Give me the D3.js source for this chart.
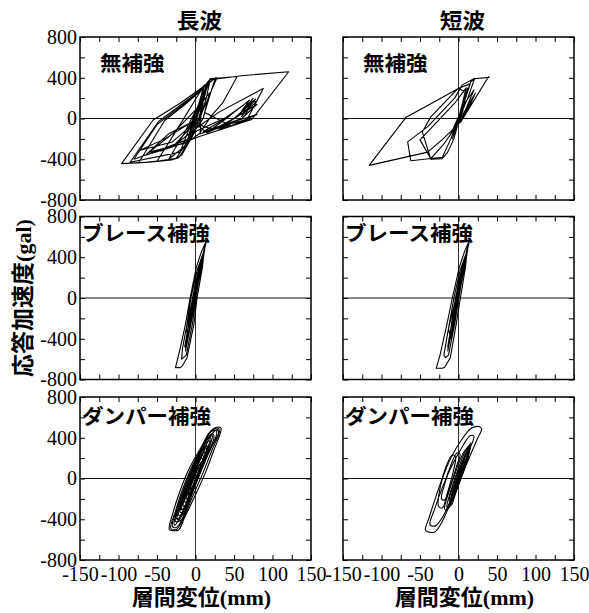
<!DOCTYPE html>
<html>
<head>
<meta charset="utf-8">
<script src="https://cdn.jsdelivr.net/npm/d3@7"></script>
<style>
  body { margin: 0; background: #fff; }
  .serif { font-family: "Liberation Serif", "Times New Roman", Times, "DejaVu Serif", serif; }
  .cjk { font-family: "Noto Sans CJK JP", "Noto Sans", sans-serif; font-weight: bold; }
</style>
</head>
<body>
<div id="chart"></div>
<script>
// Column / row titles and ticks
const columnTitles = ['長波', '短波'];
const rowTitles = ['無補強', 'ブレース補強', 'ダンパー補強'];
const xTickMinor = [-150, -125, -100, -75, -50, -25, 0, 25, 50, 75, 100, 125, 150];
const xTickLabels = [-150, -100, -50, 0, 50, 100, 150];
const yTickMinor = [-800, -600, -400, -200, 0, 200, 400, 600, 800];
const yTickLabels = [-800, -400, 0, 400, 800];

// 層間変位 (mm), 応答加速度 (gal)
const longNone = [[
  [0,0],[6,130],[-5,-100],[9,190],[-7,-150],[12,260],[-9,-190],[14,310],[-6,-130],
  [17,360],[19,390],[28,400],[22,300],[12,120],[2,-40],[-8,-180],
  [-14,-290],[-20,-370],[-28,-400],[-74,-437],[-40,-20],[-10,160],[8,280],[16,350],
  [20,390],[54,412],[46,300],[35,150],[20,20],[5,-150],[-10,-230],
  [-17,-330],[-22,-385],[-31,-408],[-60,-428],[-96,-443],[-55,-15],[-20,150],[1,262],[15,340],
  [18,360],[5,100],[-10,-100],[-30,-230],[-72,-312],[-40,-200],[-10,-60],[6,-2],[14,200],
  [19,380],[60,420],[121,459],[73,-10],[40,-90],[6,-174],
  [-20,-250],[-45,-320],[-25,-250],[0,-100],[30,60],[88,295],[67,-10],[40,-60],[20,-110],
  [45,30],[70,180],[55,20],[62,80],[75,200],[58,40],[65,120],[78,190],[60,20],[68,150],
  [80,170],[62,50],[72,140],[64,30],[74,160],[50,0],[30,-80],[10,-130],
  [30,-40],[62,130],[40,10],[20,-60],[2,-120],[-5,-160],[10,0],[18,250],[8,150],[-3,-50],
  [10,180],[-5,-90],[4,120],[-2,-40],[0,0],[-10,-220],[-25,-390],[-50,-420],[-20,-60],
  [5,250],[17,370],[8,200],[-5,-60],[-12,-260],[-35,-400],[-15,-150],[3,120],[14,320],
  [-2,20],[-8,-230],[-60,-330],[-30,-150],[2,100],[16,340],[26,398],[20,260],[12,60],
  [40,-50],[80,140],[60,0],[45,-40],[15,-140],[0,-50],[12,280],[-6,-200],[8,220],
  [-20,-330],[-85,-430],[-48,-30],[0,240],[10,300],[-8,-200],[-40,-290],[-80,-400],
  [-50,-60],[-5,200],[12,330],[-3,-60],[-30,-280],[-65,-360],[-35,-150],[0,-20],[15,310],
  [0,-120],[-18,-360],[-5,-100],[8,200],[6,-150],[45,-60],[30,-110],[70,-10],[50,-60],
  [80,40],[20,-100],[4,-60],[10,150],[0,0]
]];

const shortNone = [[
  [0,0],[4,120],[-3,-90],[8,220],[-5,-150],[12,300],[-8,-200],[16,360],[21,395],[12,200],
  [2,20],[-6,-200],[-14,-330],[-21,-394],[-36,-400],[-47,-132],[-36,16],[0,300],[10,250],
  [0,0],[-10,-200],[-21,-380],[-62,-415],[-66,-230],[-40,-80],[-5,200],[5,330],[20,390],
  [40,404],[39,410],[3,-33],[-20,-200],[-40,-330],[-116,-460],[-68,13],[-30,170],[1,300],
  [15,340],[4,100],[-5,-100],[-20,-260],[-36,-394],[-50,-210],[-30,-50],[-5,150],[10,300],
  [2,50],[-10,-150],[8,150],[20,280],[10,100],[22,250],[12,80],[18,200],[5,0],[15,150],
  [2,-30],[10,100],[0,-50],[6,80],[0,0]
]];

const longBrace = [[
  [0,0],[5,200],[-4,-150],[8,320],[-8,-330],
  [11,450],[15,585],[12,520],[9,300],[2,0],[-2,-256],[-11,-586],[-17,-666],[-20,-683],[-26,-683],
  [-20,-500],[-13,-256],[-7,0],[1,300],[8,460],[14,560],[11,470],[7,300],[1,20],[-4,-256],
  [-12,-560],[-18,-600],[-17,-500],[-11,-256],[-6,0],[2,270],[10,440],[12,470],[9,370],[5,250],
  [0,0],[-6,-256],[-13,-520],[-10,-300],[-4,0],[3,250],[8,380],[6,260],[-1,0],[-8,-300],
  [-14,-480],[-9,-256],[-3,0],[4,220],[1,100],[-3,-100],[-10,-400],[-12,-300],[-5,-50],
  [0,150],[7,350],[13,540],[10,380],[3,120],[-3,-120],[-9,-360],[-7,-200],[-1,50],[6,320],
  [3,150],[-2,-30],[0,0]
]];

const shortBrace = [[
  [0,0],[5,200],[-4,-150],[8,320],[-8,-330],
  [11,450],[15,585],[12,520],[9,300],[2.5,0],[-3,-256],[-10.6,-586],[-18,-680],[-21,-690],[-29,-690],
  [-24,-560],[-15,-256],[-8,0],[1,300],[8,460],[14,560],[11,470],[7,300],[1,20],[-5,-256],
  [-13,-560],[-17,-586],[-19,-560],[-12,-256],[-6,0],[2,270],[10,440],[12,470],[9,370],[5,250],
  [0,0],[-7,-256],[-14,-520],[-10,-300],[-4,0],[3,250],[8,380],[6,260],[-1,0],[-8,-300],
  [-14,-480],[-9,-256],[-3,0],[4,220],[1,100],[-3,-100],[-10,-400],[-13,-300],[-5,-50],
  [0,150],[7,350],[13,540],[10,380],[3,120],[-3,-120],[-9,-360],[-7,-200],[-1,50],[6,320],
  [3,150],[-2,-30],[0,0]
]];

const longDamper = [
  [[-34,-500],[-29,-330],[-20,-120],[-8,100],[6,290],[18,450],[26,500],[33,495],[32,440],[24,280],[13,60],[0,-160],[-14,-380],[-22,-505],[-29,-512]],
  [[-32,-490],[-26,-320],[-17,-110],[-5,110],[8,300],[19,450],[29,495],[31,460],[22,290],[10,60],[-4,-180],[-16,-400],[-25,-500]],
  [[-30,-470],[-24,-300],[-15,-100],[-3,120],[10,320],[20,460],[27,470],[27,420],[17,250],[5,30],[-7,-200],[-17,-400],[-25,-480]],
  [[-28,-440],[-20,-260],[-6,-20],[8,220],[20,420],[28,480],[30,450],[20,300],[6,60],[-8,-180],[-20,-380],[-27,-460]],
  [[-26,-420],[-20,-250],[-11,-60],[0,150],[12,350],[22,440],[24,400],[14,220],[3,0],[-9,-230],[-19,-410]],
  [[-26,-380],[-18,-180],[-8,30],[4,230],[16,400],[20,390],[12,230],[1,20],[-11,-220],[-22,-390]],
  [[-24,-400],[-18,-230],[-9,-30],[2,180],[14,370],[22,420],[19,330],[9,130],[-2,-80],[-13,-300],[-21,-400]],
  [[-22,-360],[-16,-200],[-8,-20],[2,160],[12,330],[18,370],[14,250],[5,50],[-5,-150],[-15,-340]],
  [[-20,-330],[-14,-170],[-6,10],[4,190],[13,320],[16,310],[10,180],[1,-10],[-9,-200],[-17,-330]],
  [[-20,-300],[-12,-100],[-2,100],[8,260],[15,320],[12,220],[2,20],[-8,-180],[-16,-300]],
  [[-18,-300],[-12,-150],[-4,30],[6,200],[14,300],[13,230],[4,40],[-6,-150],[-14,-290]],
  [[-16,-270],[-10,-110],[-2,60],[7,210],[12,260],[10,170],[2,10],[-7,-160],[-14,-270]],
  [[-14,-230],[-8,-80],[0,80],[9,230],[10,180],[2,20],[-6,-140],[-12,-230]],
  [[-12,-200],[-7,-60],[1,100],[8,200],[9,150],[1,0],[-6,-130],[-11,-200]],
  [[-10,-170],[-5,-40],[3,100],[8,170],[6,90],[-2,-60],[-9,-160]],
  [[-9,-140],[-4,-10],[3,110],[7,140],[3,40],[-3,-80],[-8,-140]],
  [[-7,-110],[-2,0],[4,100],[5,60],[0,-40],[-6,-100]]
];

const shortDamper = [
  [[-43,-505],[-38,-380],[-29,-170],[-21,0],[-10,200],[4,380],[17,495],[26,510],[30,490],[24,380],[12,170],[2,-20],[-10,-230],[-21,-420],[-31,-525],[-40,-522]],
  [[-37,-455],[-31,-300],[-21,-90],[-9,120],[4,300],[15,420],[20,415],[14,280],[4,70],[-7,-150],[-20,-370],[-30,-465]],
  [[-26,-270],[-23,-60],[-16,120],[-8,230],[-4,210],[-7,60],[-14,-130],[-21,-290]],
  [[-22,-200],[-17,-30],[-10,130],[-2,250],[2,240],[-3,110],[-10,-60],[-18,-210]],
  [[-18,-300],[-12,-120],[-3,80],[7,260],[13,300],[10,180],[1,-20],[-9,-220],[-15,-310]],
  [[-15,-280],[-9,-100],[0,100],[9,270],[15,330],[12,200],[3,0],[-6,-180],[-13,-290]],
  [[-12,-220],[-6,-50],[3,130],[10,250],[11,190],[3,20],[-5,-150],[-10,-230]],
  [[-11,-260],[-5,-80],[4,120],[12,280],[13,220],[5,40],[-4,-150],[-9,-260]],
  [[-10,-200],[-4,-40],[4,130],[11,260],[12,200],[4,40],[-4,-130],[-9,-210]],
  [[-8,-150],[-2,0],[6,150],[9,170],[4,50],[-3,-100]],
  [[-6,-140],[-1,-10],[6,120],[10,200],[7,100],[0,-40],[-5,-140]],
  [[-5,-120],[0,20],[6,160],[14,330],[12,230],[4,60],[-3,-90]],
  [[-3,-80],[2,60],[8,200],[16,350],[14,260],[6,90],[-1,-60]]
];

const panelData = [
  [longNone, shortNone],
  [longBrace, shortBrace],
  [longDamper, shortDamper]
];

// layout
const W = 589, H = 613;
const colLeft = [80, 343];
const rowTop = [37, 216.5, 397];
const pw = 231, ph = 163;

const svg = d3.select('#chart').append('svg')
  .attr('width', W).attr('height', H)
  .attr('viewBox', `0 0 ${W} ${H}`);

const x = d3.scaleLinear().domain([-150, 150]).range([0, pw]);
const y = d3.scaleLinear().domain([-800, 800]).range([ph, 0]);

const straight = d3.line().x(d => x(d[0])).y(d => y(d[1]));
const smooth = d3.line().x(d => x(d[0])).y(d => y(d[1])).curve(d3.curveCatmullRomClosed.alpha(0.5));
const plain = d => String(d); // hyphen-minus like the original

function tickAxis(g, axis) {
  g.call(axis);
  g.select('.domain').remove();
  g.selectAll('line').attr('stroke', '#000').attr('stroke-width', 1);
}

rowTitles.forEach((rowTitle, r) => {
  columnTitles.forEach((colTitle, c) => {
    const g = svg.append('g').attr('transform', `translate(${colLeft[c]},${rowTop[r]})`);

    // zero lines
    g.append('line').attr('x1', x(0)).attr('x2', x(0)).attr('y1', 0).attr('y2', ph)
      .attr('stroke', '#333').attr('stroke-width', 1);
    g.append('line').attr('x1', 0).attr('x2', pw).attr('y1', y(0)).attr('y2', y(0))
      .attr('stroke', '#111').attr('stroke-width', 1);

    // hysteresis loops
    const isDamper = r === 2;
    g.selectAll('path.loop').data(panelData[r][c]).join('path')
      .attr('class', 'loop')
      .attr('d', d => (isDamper ? smooth : straight)(d))
      .attr('fill', 'none').attr('stroke', '#000')
      .attr('stroke-width', 1.1).attr('stroke-linejoin', 'round');

    // inward ticks on all four sides
    tickAxis(g.append('g').attr('transform', `translate(0,${ph})`),
      d3.axisBottom(x).tickValues(xTickMinor).tickSize(-5).tickFormat(''));
    tickAxis(g.append('g'),
      d3.axisTop(x).tickValues(xTickMinor).tickSize(-5).tickFormat(''));
    tickAxis(g.append('g'),
      d3.axisLeft(y).tickValues(yTickMinor).tickSize(-5).tickFormat(''));
    tickAxis(g.append('g').attr('transform', `translate(${pw},0)`),
      d3.axisRight(y).tickValues(yTickMinor).tickSize(-5).tickFormat(''));

    g.append('rect').attr('width', pw).attr('height', ph)
      .attr('fill', 'none').attr('stroke', '#000').attr('stroke-width', 1.5);

    // tick labels
    if (c === 0) {
      const ya = g.append('g')
        .call(d3.axisLeft(y).tickValues(yTickLabels).tickSize(0).tickPadding(3).tickFormat(plain));
      ya.select('.domain').remove();
      ya.attr('font-family', null).attr('font-size', null);
      ya.selectAll('text').attr('class', 'serif').style('font-size', '20px').attr('fill', '#000');
    }
    if (r === 2) {
      const xa = g.append('g').attr('transform', `translate(0,${ph})`)
        .call(d3.axisBottom(x).tickValues(xTickLabels).tickSize(0).tickPadding(7).tickFormat(plain));
      xa.select('.domain').remove();
      xa.attr('font-family', null).attr('font-size', null);
      xa.selectAll('text').attr('class', 'serif').style('font-size', '20px').attr('fill', '#000');
    }

    // panel label
    const lx = r === 0 ? 20 : 2;
    const ly = [34, 24.5, 27][r];
    g.append('text')
      .attr('class', 'cjk')
      .attr('transform', `translate(${lx},${ly}) scale(1.05,1)`)
      .style('font-size', '20.5px')
      .text(rowTitle);

    if (r === 0) {
      svg.append('text')
        .attr('class', 'cjk')
        .attr('transform', `translate(${colLeft[c] + x(0) + 4},28) scale(1.08,1)`)
        .attr('text-anchor', 'middle')
        .style('font-size', '21px')
        .text(colTitle);
    }
    if (r === 2) {
      const t = svg.append('text')
        .attr('transform', `translate(${colLeft[c] + x(0) + 6},605)`)
        .attr('text-anchor', 'middle');
      t.append('tspan').attr('class', 'cjk').style('font-size', '22px').text('層間変位');
      t.append('tspan').attr('class', 'serif').style('font-weight', 'bold').style('font-size', '22px').text('(mm)');
    }
  });
});

// y axis title
const yt = svg.append('text')
  .attr('transform', `translate(31,${rowTop[1] + ph / 2}) rotate(-90)`)
  .attr('text-anchor', 'middle');
yt.append('tspan').attr('class', 'cjk').style('font-size', '23px').text('応答加速度');
yt.append('tspan').attr('class', 'serif').style('font-weight', 'bold').style('font-size', '22px').text('(gal)');
</script>
</body>
</html>
